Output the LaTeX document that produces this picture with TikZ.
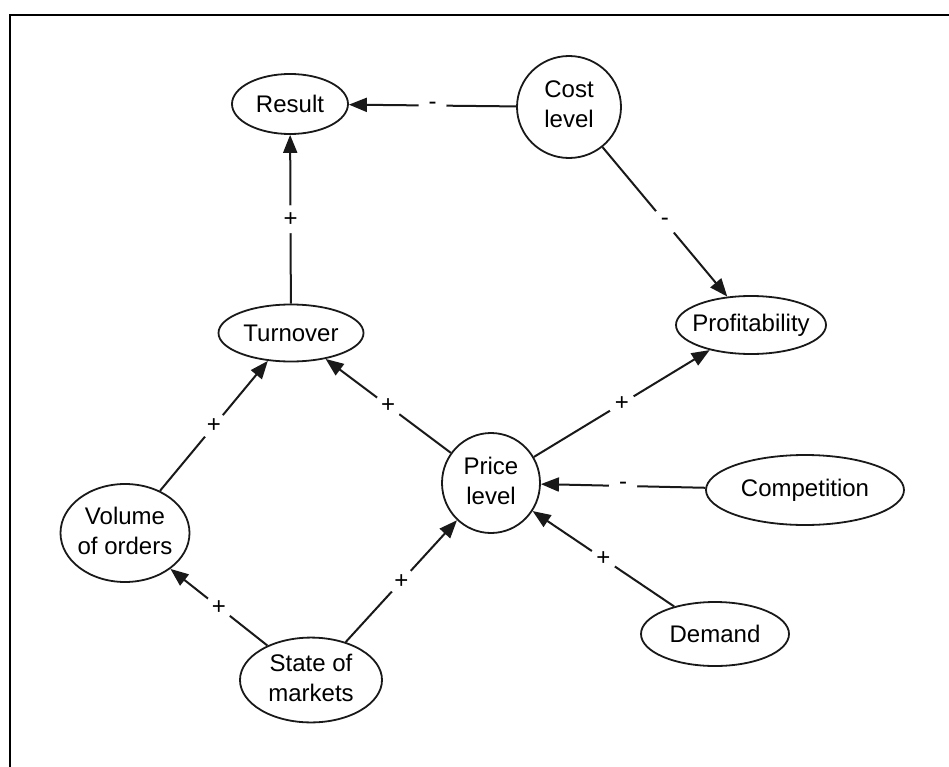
\documentclass[tikz,border=0pt]{standalone}
\usepackage{fontspec}
\setmainfont{Liberation Sans}
\usetikzlibrary{shapes.geometric,arrows.meta}
\newcommand{\twol}[2]{\makebox[0pt]{\begin{tabular}{@{}c@{}}#1\\#2\end{tabular}}}
\newcommand{\onel}[1]{\makebox[0pt]{#1}}
\begin{document}
\begin{tikzpicture}[x=1pt,y=-1pt,
  ov/.style={ellipse, draw=black!90, line width=1.8pt, inner sep=0pt, font=\fontsize{24}{30}\selectfont},
  arr/.style={draw=black!90, line width=2pt, -{Triangle[length=18pt,width=14pt]}},
  lab/.style={circle, fill=white, inner sep=0pt, minimum size=28pt, font=\fontsize{24}{26}\selectfont}]
\useasboundingbox (0,0) rectangle (949,767);
\draw[line width=2.2pt] (10,770) -- (10,15) -- (952,15);
\node[ov, minimum width=116pt, minimum height=60pt] (result) at (290,104) {\onel{Result}};
\node[ov, minimum width=104pt, minimum height=102pt] (cost) at (569,107) {\twol{Cost}{level}};
\node[ov, minimum width=145pt, minimum height=57pt] (turnover) at (291,333) {\onel{Turnover}};
\node[ov, minimum width=150pt, minimum height=58pt] (profit) at (751,325) {\onel{Profitability}};
\node[ov, minimum width=98pt, minimum height=100pt] (price) at (491,483) {\twol{Price}{level}};
\node[ov, minimum width=129pt, minimum height=98pt] (volume) at (125,533) {\twol{Volume}{of orders}};
\node[ov, minimum width=198pt, minimum height=70pt] (comp) at (805,490) {\onel{Competition}};
\node[ov, minimum width=148pt, minimum height=64pt] (demand) at (715,634) {\onel{Demand}};
\node[ov, minimum width=142pt, minimum height=84pt] (state) at (311,680) {\twol{State of}{markets}};
\draw[arr] (cost) -- node[lab] {-} (result);
\draw[arr] (turnover) -- node[lab] {+} (result);
\draw[arr] (cost) -- node[lab] {-} (profit);
\draw[arr] (price) -- node[lab] {+} (turnover);
\draw[arr] (price) -- node[lab] {+} (profit);
\draw[arr] (volume) -- node[lab] {+} (turnover);
\draw[arr] (state) -- node[lab] {+} (volume);
\draw[arr] (state) -- node[lab] {+} (price);
\draw[arr] (comp) -- node[lab] {-} (price);
\draw[arr] (demand) -- node[lab] {+} (price);
\end{tikzpicture}
\end{document}
